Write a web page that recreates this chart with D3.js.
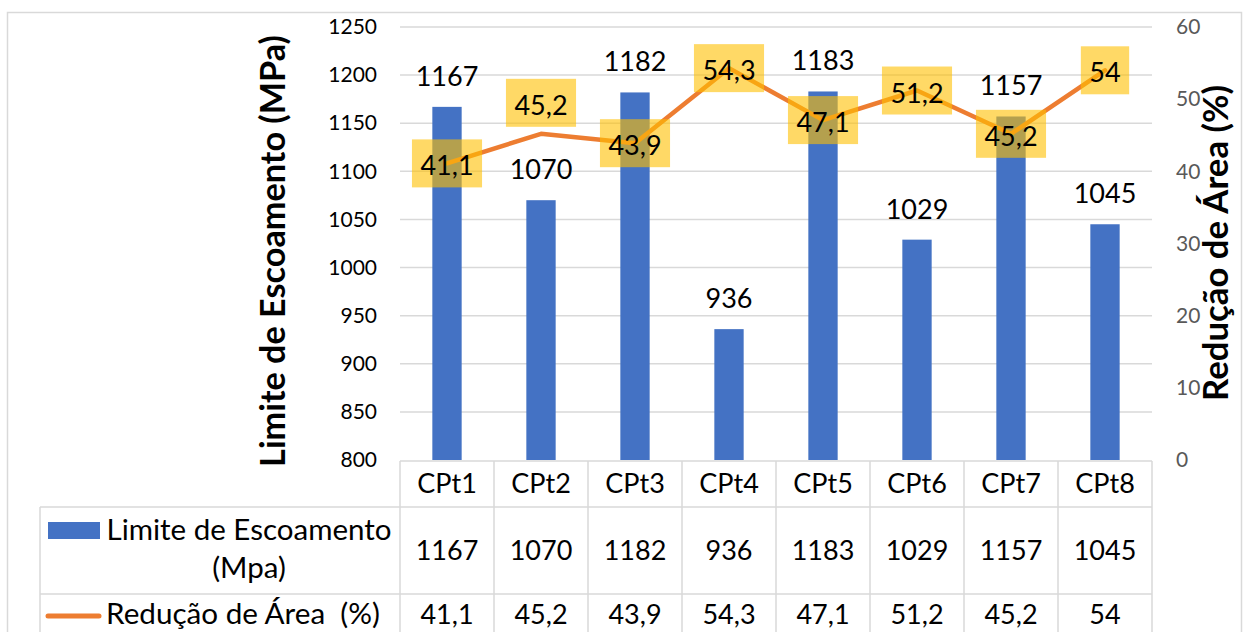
<!DOCTYPE html>
<html>
<head>
<meta charset="utf-8">
<script src="https://cdn.jsdelivr.net/npm/d3@7"></script>
<style>
  html, body { margin: 0; padding: 0; background: #fff; }
  svg { display: block; font-family: Lato, "Open Sans", sans-serif; }
</style>
</head>
<body>
<svg id="chart" width="1245" height="632"></svg>
<script>
// ---- data ----
const categories = ["CPt1", "CPt2", "CPt3", "CPt4", "CPt5", "CPt6", "CPt7", "CPt8"];
const limiteEscoamento = [1167, 1070, 1182, 936, 1183, 1029, 1157, 1045];
const reducaoArea = [41.1, 45.2, 43.9, 54.3, 47.1, 51.2, 45.2, 54];
const leftTicks = [800, 850, 900, 950, 1000, 1050, 1100, 1150, 1200, 1250];
const rightTicks = [0, 10, 20, 30, 40, 50, 60];
const seriesNames = ["Limite de Escoamento", "(Mpa)", "Redução de Área  (%)"];
const leftTitle = "Limite de Escoamento (MPa)";
const rightTitle = "Redução de Área (%)";
// label placement for the line data labels (style)
const lineLabelAbove = [false, true, false, false, false, false, false, false];

const fmt = v => String(v).replace(".", ",");

const svg = d3.select("#chart");
const BLUE = "#4472C4", ORANGE = "#ED7D31", GRID = "#D9D9D9";

// chart outer border
svg.append("rect").attr("x", 7.5).attr("y", 12.5).attr("width", 1234).attr("height", 640)
  .attr("fill", "none").attr("stroke", GRID).attr("stroke-width", 1.5);

// scales
const x = d3.scaleBand().domain(categories).range([400, 1152]).padding(0);
const yL = d3.scaleLinear().domain([800, 1250]).range([460, 27]);
const yR = d3.scaleLinear().domain([0, 60]).range([460, 27]);
const cx = c => x(c) + x.bandwidth() / 2;
const barW = x.bandwidth() * 0.312;

// gridlines
svg.append("g").selectAll("line").data(leftTicks.filter(t => t > 800)).join("line")
  .attr("x1", 400).attr("x2", 1152)
  .attr("y1", d => yL(d)).attr("y2", d => yL(d))
  .attr("stroke", GRID).attr("stroke-width", 1.5);

// left axis
const gL = svg.append("g").attr("transform", "translate(377,0)")
  .call(d3.axisLeft(yL).tickValues(leftTicks).tickFormat(d3.format("d")).tickSize(0).tickPadding(0));
gL.select(".domain").remove();
gL.selectAll("text").attr("font-size", 21).attr("fill", "#000").attr("font-family", "Lato");

// right axis
const gR = svg.append("g").attr("transform", "translate(1176,0)")
  .call(d3.axisRight(yR).tickValues(rightTicks).tickFormat(d3.format("d")).tickSize(0).tickPadding(0));
gR.select(".domain").remove();
gR.selectAll("text").attr("font-size", 21).attr("fill", "#595959").attr("font-family", "Lato");

// axis titles
function fitLen(sel, target) {
  const l = sel.node().getComputedTextLength();
  const fs = parseFloat(sel.attr("font-size"));
  sel.attr("font-size", fs * target / l);
}
const tL = svg.append("text").attr("transform", "translate(285,251) rotate(-90)")
  .attr("text-anchor", "middle").attr("font-weight", 700).attr("font-size", 30)
  .attr("fill", "#000").text(leftTitle);
fitLen(tL, 432);
const tR = svg.append("text").attr("transform", "translate(1228,243) rotate(-90)")
  .attr("text-anchor", "middle").attr("font-weight", 700).attr("font-size", 30)
  .attr("fill", "#000").text(rightTitle);
fitLen(tR, 316);

// bars
svg.append("g").selectAll("rect").data(categories).join("rect")
  .attr("x", (c) => cx(c) - barW / 2)
  .attr("width", barW)
  .attr("y", (c, i) => yL(limiteEscoamento[i]))
  .attr("height", (c, i) => yL(800) - yL(limiteEscoamento[i]))
  .attr("fill", BLUE);

// bar labels
svg.append("g").selectAll("text").data(categories).join("text")
  .attr("x", c => cx(c))
  .attr("y", (c, i) => yL(limiteEscoamento[i]) - 21)
  .attr("text-anchor", "middle").attr("font-size", 27).attr("fill", "#000")
  .text((c, i) => limiteEscoamento[i]);

// line
const line = d3.line().x((d, i) => cx(categories[i])).y(d => yR(d));
svg.append("path").datum(reducaoArea).attr("d", line)
  .attr("fill", "none").attr("stroke", ORANGE).attr("stroke-width", 4.5)
  .attr("stroke-linejoin", "round").attr("stroke-linecap", "round");

// line labels with semi-transparent yellow boxes
const lblG = svg.append("g");
reducaoArea.forEach((v, i) => {
  const px = cx(categories[i]);
  const cy = lineLabelAbove[i] ? yR(v) - 31 : yR(v);
  const t = lblG.append("text").attr("x", px).attr("y", cy + 12)
    .attr("text-anchor", "middle").attr("font-size", 27).attr("fill", "#000").text(fmt(v));
  const w = t.node().getComputedTextLength() + 17;
  lblG.insert("rect", "text").attr("x", px - w / 2).attr("y", cy - 24)
    .attr("width", w).attr("height", 48)
    .attr("fill", "#FFC000").attr("fill-opacity", 0.6);
});

// data table
const tg = svg.append("g").attr("stroke", GRID).attr("stroke-width", 1.5);
const bounds = [400, ...categories.map(c => x(c) + x.bandwidth())];
tg.append("line").attr("x1", 400).attr("x2", 1152).attr("y1", 461).attr("y2", 461);
tg.append("line").attr("x1", 40).attr("x2", 1152).attr("y1", 507).attr("y2", 507);
tg.append("line").attr("x1", 40).attr("x2", 1152).attr("y1", 594).attr("y2", 594);
bounds.forEach(b => tg.append("line").attr("x1", b).attr("x2", b).attr("y1", 461).attr("y2", 640));
tg.append("line").attr("x1", 40).attr("x2", 40).attr("y1", 507).attr("y2", 640);

// header row
svg.append("g").selectAll("text").data(categories).join("text")
  .attr("x", c => cx(c)).attr("y", 493)
  .attr("text-anchor", "middle").attr("font-size", 27).attr("fill", "#000")
  .text(c => c);
// row values
svg.append("g").selectAll("text").data(categories).join("text")
  .attr("x", c => cx(c)).attr("y", 560)
  .attr("text-anchor", "middle").attr("font-size", 27).attr("fill", "#000")
  .text((c, i) => limiteEscoamento[i]);
svg.append("g").selectAll("text").data(categories).join("text")
  .attr("x", c => cx(c)).attr("y", 624)
  .attr("text-anchor", "middle").attr("font-size", 27).attr("fill", "#000")
  .text((c, i) => fmt(reducaoArea[i]));

// legend keys
svg.append("rect").attr("x", 48).attr("y", 522).attr("width", 52).attr("height", 17).attr("fill", BLUE);
svg.append("line").attr("x1", 48).attr("x2", 99).attr("y1", 616).attr("y2", 616)
  .attr("stroke", ORANGE).attr("stroke-width", 5).attr("stroke-linecap", "round");

const s1 = svg.append("text").attr("x", 249).attr("y", 540).attr("text-anchor", "middle")
  .attr("font-size", 27).attr("fill", "#000").text(seriesNames[0]);
fitLen(s1, 285);
svg.append("text").attr("x", 249).attr("y", 578).attr("text-anchor", "middle")
  .attr("font-size", +s1.attr("font-size")).attr("fill", "#000").text(seriesNames[1]);
const s3 = svg.append("text").attr("x", 243).attr("y", 624).attr("text-anchor", "middle")
  .attr("font-size", 27).attr("fill", "#000")
  .style("white-space", "pre").text(seriesNames[2]);
fitLen(s3, 274);
</script>
</body>
</html>
